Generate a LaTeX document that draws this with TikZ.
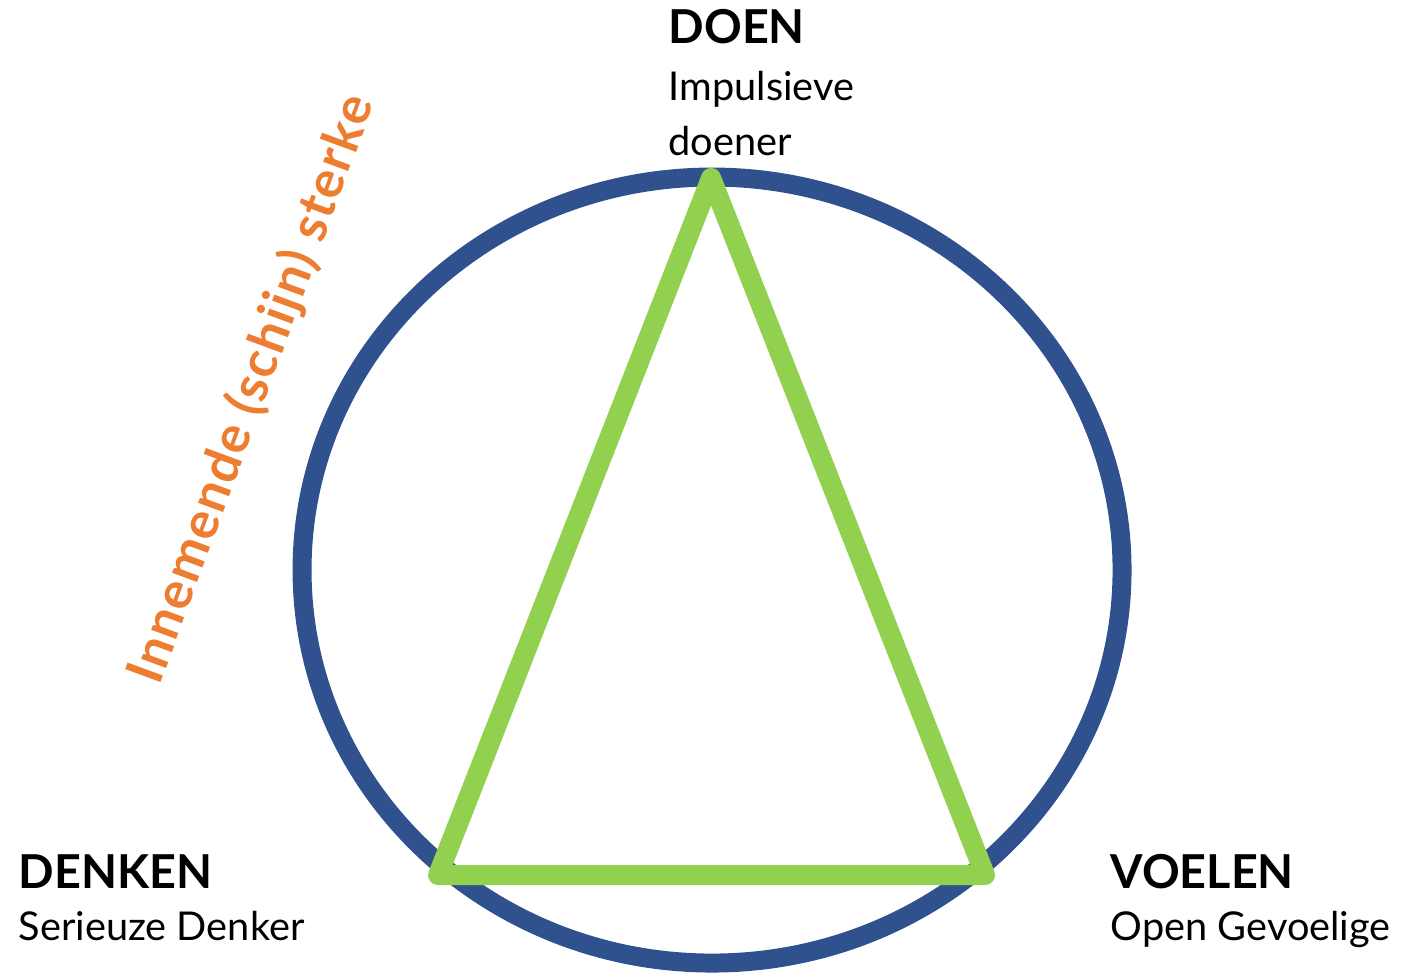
\documentclass[tikz,border=0pt]{standalone}
\usepackage{fontspec}
\setmainfont{Lato}
\usepackage{tikz}

\definecolor{ringblue}{HTML}{2F528F}
\definecolor{driegreen}{HTML}{92D050}
\definecolor{schijnorange}{HTML}{ED7D31}

\begin{document}
\begin{tikzpicture}[scale=0.1]
\tikzstyle{every node}+=[inner sep=0pt]
\tikzstyle{kop}=[anchor=base west, font=\bfseries\fontsize{13.3}{15}\selectfont]
\tikzstyle{sub}=[anchor=base west, font=\fontsize{11.3}{13}\selectfont]
\useasboundingbox (0,0) rectangle (140.3,-97.3);
\coordinate (mid) at (71.2,-57);
\draw [ringblue, line width=5.4pt] (mid) ellipse (41 and 39.3);
\coordinate (doen) at (71.1,-17.8);
\coordinate (denken) at (43.8,-87.5);
\coordinate (voelen) at (98.5,-87.5);
\draw [driegreen, line width=5.7pt, line join=round] (doen) -- (denken) -- (voelen) -- cycle;
\node [kop] (doenKop) at (66.8,-4.3) {DOEN};
\node [sub] (doenSub) at (66.8,-10) {Impulsieve};
\node [sub] (doenSub2) at (66.8,-15.5) {doener};
\node [kop] (denkenKop) at (1.8,-88.8) {DENKEN};
\node [sub] (denkenSub) at (1.8,-94) {Serieuze Denker};
\node [kop] (voelenKop) at (111,-88.8) {VOELEN};
\node [sub] (voelenSub) at (111,-94) {Open Gevoelige};
\node [rotate=69.8, anchor=base, text=schijnorange, font=\bfseries\fontsize{14.8}{16}\selectfont\addfontfeatures{LetterSpace=3}] (schijn) at (26.7,-39.5) {Innemende (schijn) sterke};
\end{tikzpicture}
\end{document}
